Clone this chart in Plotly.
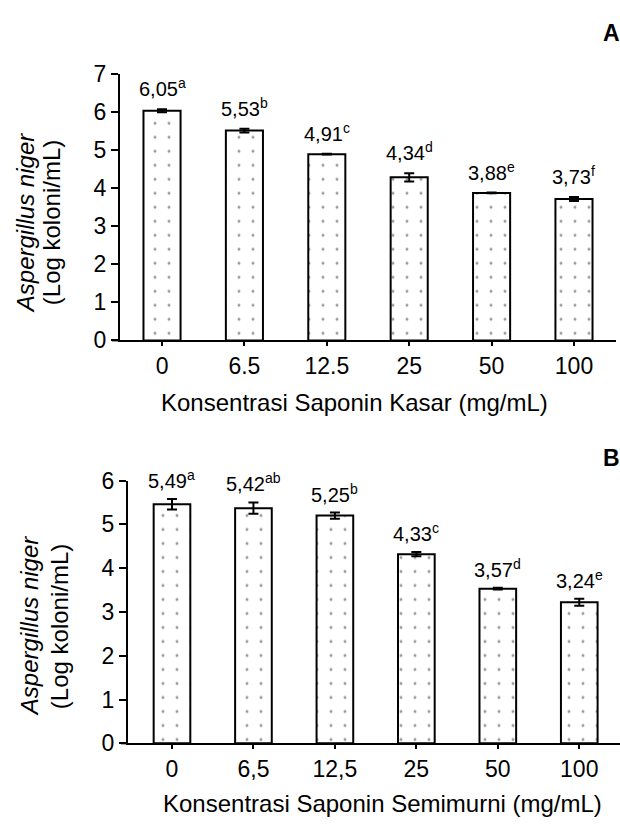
import plotly.graph_objects as go

categories_A = ["0", "6.5", "12.5", "25", "50", "100"]
values_A = [6.04, 5.52, 4.90, 4.29, 3.88, 3.72]
errors_A = [0.04, 0.05, 0.01, 0.11, 0.01, 0.05]
labels_A = ["6,05", "5,53", "4,91", "4,34", "3,88", "3,73"]
letters_A = ["a", "b", "c", "d", "e", "f"]

categories_B = ["0", "6,5", "12,5", "25", "50", "100"]
values_B = [5.46, 5.37, 5.20, 4.32, 3.53, 3.22]
errors_B = [0.12, 0.13, 0.07, 0.05, 0.02, 0.08]
labels_B = ["5,49", "5,42", "5,25", "4,33", "3,57", "3,24"]
letters_B = ["a", "ab", "b", "c", "d", "e"]

W, H = 620, 829
FONT = "Liberation Sans, Arial, sans-serif"
TICK_FS = 23
TITLE_FS = 24
LABEL_FS = 20


def px_x(p):
    return p / W


def px_y(p):
    return 1 - p / H


fig = go.Figure()

bar_style = dict(
    marker=dict(
        color="white",
        line=dict(color="black", width=2),
        pattern=dict(shape=".", size=14, solidity=0.035, fgcolor="#333333",
                     bgcolor="white", fillmode="overlay"),
    ),
    width=0.45,
    showlegend=False,
    hoverinfo="skip",
)

fig.add_trace(go.Bar(x=categories_A, y=values_A, xaxis="x", yaxis="y",
                     error_y=dict(type="data", array=errors_A, color="black", thickness=2, width=5),
                     **bar_style))
fig.add_trace(go.Bar(x=categories_B, y=values_B, xaxis="x2", yaxis="y2",
                     error_y=dict(type="data", array=errors_B, color="black", thickness=2, width=5),
                     **bar_style))

annotations = []
for i, (v, e, l, s) in enumerate(zip(values_A, errors_A, labels_A, letters_A)):
    annotations.append(dict(x=i, y=v + e, xref="x", yref="y", text=f"{l}<sup>{s}</sup>",
                            showarrow=False, yanchor="bottom", yshift=7,
                            font=dict(family=FONT, size=LABEL_FS, color="black")))
for i, (v, e, l, s) in enumerate(zip(values_B, errors_B, labels_B, letters_B)):
    annotations.append(dict(x=i, y=v + e, xref="x2", yref="y2", text=f"{l}<sup>{s}</sup>",
                            showarrow=False, yanchor="bottom", yshift=5,
                            font=dict(family=FONT, size=LABEL_FS, color="black")))

annotations += [
    dict(text="<b>A</b>", x=px_x(611), y=px_y(21), xref="paper", yref="paper",
         xanchor="center", yanchor="middle",
         showarrow=False, font=dict(family=FONT, size=23, color="black")),
    dict(text="<b>B</b>", x=px_x(611), y=px_y(459), xref="paper", yref="paper",
         xanchor="center", yanchor="middle",
         showarrow=False, font=dict(family=FONT, size=23, color="black")),
    dict(text="Konsentrasi Saponin Kasar (mg/mL)", x=px_x(354), y=px_y(402),
         xref="paper", yref="paper", xanchor="center", yanchor="middle", showarrow=False,
         font=dict(family=FONT, size=TITLE_FS, color="black")),
    dict(text="Konsentrasi Saponin Semimurni (mg/mL)", x=px_x(382), y=px_y(816),
         xref="paper", yref="paper", xanchor="center", yanchor="middle", showarrow=False,
         font=dict(family=FONT, size=TITLE_FS, color="black")),
    dict(text="<i>Aspergillus niger</i>", x=px_x(25), y=px_y(217),
         xref="paper", yref="paper", xanchor="center", yanchor="middle",
         showarrow=False, textangle=-90,
         font=dict(family=FONT, size=TITLE_FS, color="black")),
    dict(text="(Log koloni/mL)", x=px_x(51), y=px_y(217),
         xref="paper", yref="paper", xanchor="center", yanchor="middle",
         showarrow=False, textangle=-90,
         font=dict(family=FONT, size=TITLE_FS, color="black")),
    dict(text="<i>Aspergillus niger</i>", x=px_x(29), y=px_y(633),
         xref="paper", yref="paper", xanchor="center", yanchor="middle",
         showarrow=False, textangle=-90,
         font=dict(family=FONT, size=TITLE_FS, color="black")),
    dict(text="(Log koloni/mL)", x=px_x(59), y=px_y(633),
         xref="paper", yref="paper", xanchor="center", yanchor="middle",
         showarrow=False, textangle=-90,
         font=dict(family=FONT, size=TITLE_FS, color="black")),
]

axis_common = dict(showgrid=False, zeroline=False, showline=True, linecolor="black", linewidth=2,
                   ticks="outside", tickcolor="black", tickwidth=2,
                   tickfont=dict(family=FONT, size=TICK_FS, color="black"))

fig.update_layout(
    width=W, height=H,
    margin=dict(l=0, r=0, t=0, b=0),
    paper_bgcolor="white", plot_bgcolor="white",
    font=dict(family=FONT, size=TICK_FS, color="black"),
    xaxis=dict(domain=[px_x(120), px_x(616)], range=[-0.51, 5.51], anchor="y",
               ticklen=4, **axis_common),
    yaxis=dict(domain=[px_y(338), px_y(63.3)], range=[0, 7], anchor="x",
               dtick=1, ticklen=7, **axis_common),
    xaxis2=dict(domain=[px_x(128), px_x(620)], range=[-0.54, 5.5], anchor="y2",
                ticklen=4, **axis_common),
    yaxis2=dict(domain=[px_y(754), px_y(482.7)], range=[0, 6], anchor="x2",
                dtick=1, ticklen=7, **axis_common),
    annotations=annotations,
    shapes=[
        dict(type="line", xref="paper", yref="paper", x0=px_x(112), x1=px_x(120),
             y0=px_y(338), y1=px_y(338), line=dict(color="black", width=2)),
        dict(type="line", xref="paper", yref="paper", x0=px_x(121), x1=px_x(128),
             y0=px_y(754), y1=px_y(754), line=dict(color="black", width=2)),
    ],
)

fig.write_html("out.html", config={"displayModeBar": False},
               post_script="document.body.style.margin='0';document.body.style.overflow='hidden';")
